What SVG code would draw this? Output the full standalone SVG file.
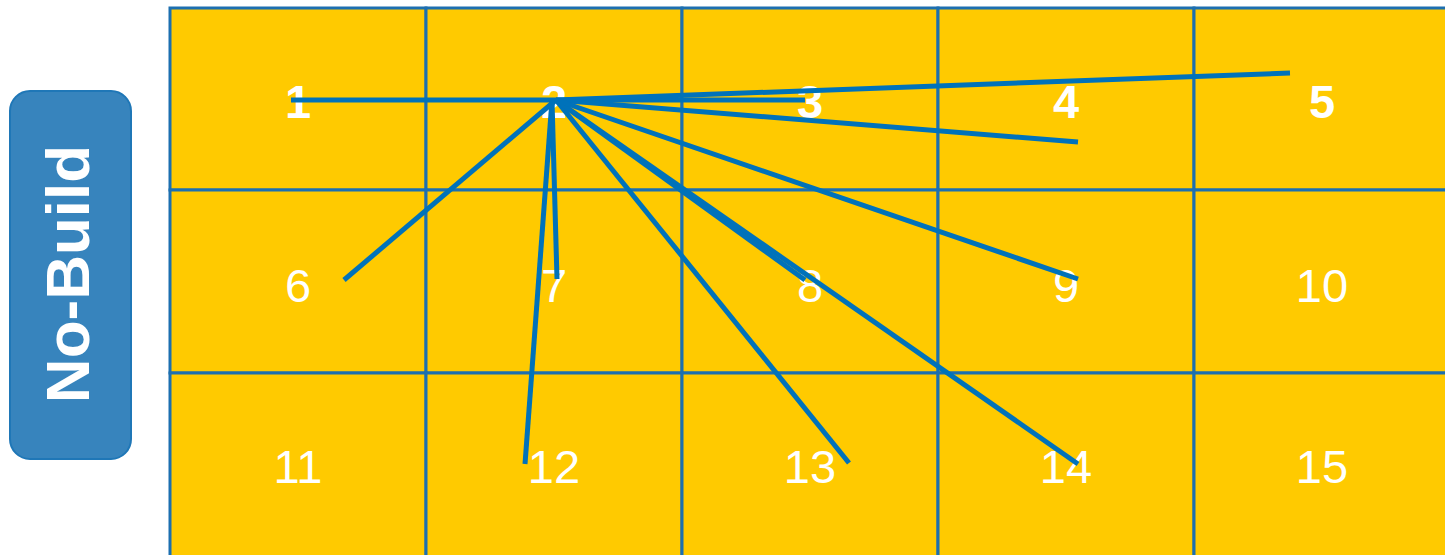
<svg xmlns="http://www.w3.org/2000/svg" width="1445" height="555" viewBox="0 0 1445 555">
<style>
.cell{fill:#FFCA00;stroke:#1C6FB0;stroke-width:3}
.n{font-family:"Liberation Sans",Arial,sans-serif;font-size:47px;fill:#FFFFFF;text-anchor:middle}
.b{font-weight:bold}
.c{stroke:#0072BA;stroke-width:5;fill:none;stroke-linecap:butt}
</style>
<rect width="1445" height="555" fill="#FFFFFF"/>
<g id="label-nobuild">
<rect x="10" y="91" width="121" height="368" rx="20" ry="20" fill="#3784BD" stroke="#1F77B7" stroke-width="2"/>
<text transform="translate(89,274) rotate(-90)" font-family="Liberation Sans,Arial,sans-serif" font-size="62" font-weight="bold" fill="#FFFFFF" text-anchor="middle">No-Build</text>
</g>
<g id="cell1"><rect class="cell" x="170" y="8" width="256" height="182"/><text class="n b" x="298" y="118">1</text></g>
<g id="cell2"><rect class="cell" x="426" y="8" width="256" height="182"/><text class="n b" x="554" y="118">2</text></g>
<g id="cell3"><rect class="cell" x="682" y="8" width="256" height="182"/><text class="n b" x="810" y="118">3</text></g>
<g id="cell4"><rect class="cell" x="938" y="8" width="256" height="182"/><text class="n b" x="1066" y="118">4</text></g>
<g id="cell5"><rect class="cell" x="1194" y="8" width="256" height="182"/><text class="n b" x="1322" y="118">5</text></g>
<g id="cell6"><rect class="cell" x="170" y="190" width="256" height="183"/><text class="n" x="298" y="302">6</text></g>
<g id="cell7"><rect class="cell" x="426" y="190" width="256" height="183"/><text class="n" x="554" y="302">7</text></g>
<g id="cell8"><rect class="cell" x="682" y="190" width="256" height="183"/><text class="n" x="810" y="302">8</text></g>
<g id="cell9"><rect class="cell" x="938" y="190" width="256" height="183"/><text class="n" x="1066" y="302">9</text></g>
<g id="cell10"><rect class="cell" x="1194" y="190" width="256" height="183"/><text class="n" x="1322" y="302">10</text></g>
<g id="cell11"><rect class="cell" x="170" y="373" width="256" height="184"/><text class="n" x="298" y="483">11</text></g>
<g id="cell12"><rect class="cell" x="426" y="373" width="256" height="184"/><text class="n" x="554" y="483">12</text></g>
<g id="cell13"><rect class="cell" x="682" y="373" width="256" height="184"/><text class="n" x="810" y="483">13</text></g>
<g id="cell14"><rect class="cell" x="938" y="373" width="256" height="184"/><text class="n" x="1066" y="483">14</text></g>
<g id="cell15"><rect class="cell" x="1194" y="373" width="256" height="184"/><text class="n" x="1322" y="483">15</text></g>
<g id="connectors">
<line class="c" x1="291" y1="100" x2="556" y2="100"/>
<line class="c" x1="556" y1="100" x2="805" y2="100"/>
<line class="c" x1="556" y1="100" x2="1290" y2="73"/>
<line class="c" x1="556" y1="100" x2="1078" y2="142"/>
<line class="c" x1="556" y1="100" x2="344" y2="280"/>
<line class="c" x1="552" y1="100" x2="557" y2="279"/>
<line class="c" x1="552" y1="100" x2="525" y2="464"/>
<line class="c" x1="556" y1="100" x2="849" y2="463"/>
<line class="c" x1="556" y1="100" x2="1078" y2="464"/>
<line class="c" x1="556" y1="100" x2="805" y2="280" stroke-width="7"/>
<line class="c" x1="556" y1="100" x2="1078" y2="279"/>
</g>
</svg>
